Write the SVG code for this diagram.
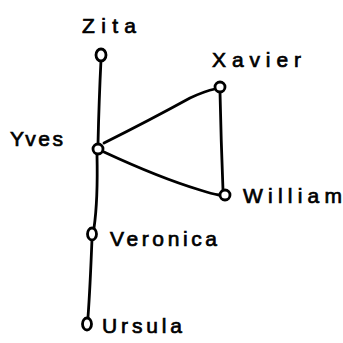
<svg xmlns="http://www.w3.org/2000/svg" width="343" height="343" viewBox="0 0 343 343">
<style>
.n{fill:#fff;stroke:#000;stroke-width:2.8}
.e{fill:none;stroke:#000;stroke-width:2.8;stroke-linecap:round}
text{font-family:"Liberation Sans",Arial,sans-serif;font-size:21px;fill:#000;stroke:#000;stroke-width:0.7}
</style>
<rect width="343" height="343" fill="#fff"/>
<g id="edges">
<path class="e" d="M101,60 Q99,100 98,144"/>
<path class="e" d="M104,143 Q150,120 190,98 Q205,91 215,89"/>
<path class="e" d="M220,92 Q221,140 223,190"/>
<path class="e" d="M104,152 Q160,178 200,190 Q212,194 219,195"/>
<path class="e" d="M97,155 Q98,200 94,228"/>
<path class="e" d="M92,239 Q90,290 88,317"/>
</g>
<g id="zita"><ellipse class="n" cx="101" cy="55" rx="5" ry="6"/><text x="82" y="33" textLength="54" lengthAdjust="spacing">Zita</text></g>
<g id="xavier"><circle class="n" cx="220" cy="87" r="5"/><text x="212" y="67" textLength="89" lengthAdjust="spacing">Xavier</text></g>
<g id="yves"><circle class="n" cx="98" cy="149" r="5"/><text x="10" y="146" textLength="53" lengthAdjust="spacing">Yves</text></g>
<g id="william"><circle class="n" cx="225" cy="195" r="5"/><text x="243" y="203" textLength="99" lengthAdjust="spacing">William</text></g>
<g id="veronica"><ellipse class="n" cx="92" cy="234" rx="4.5" ry="6"/><text x="110" y="246" textLength="107" lengthAdjust="spacing">Veronica</text></g>
<g id="ursula"><ellipse class="n" cx="87" cy="324" rx="4.5" ry="6"/><text x="102" y="333" textLength="80" lengthAdjust="spacing">Ursula</text></g>
</svg>
